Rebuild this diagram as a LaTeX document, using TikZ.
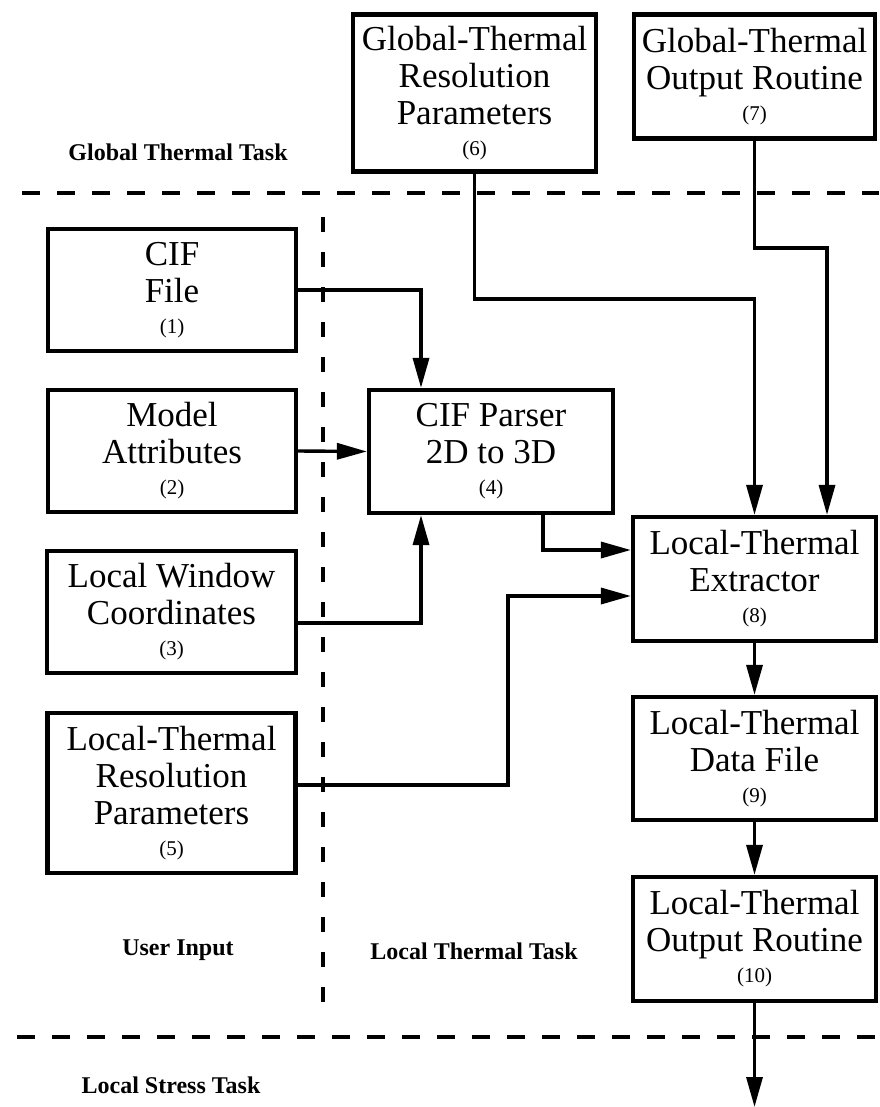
\documentclass[tikz,border=0pt]{standalone}
\usepackage{fontspec}
\setmainfont{Liberation Serif}
\usetikzlibrary{arrows.meta}
\newcommand\nbr[1]{\\[-6pt]{\fontsize{21}{21}\selectfont (#1)}}
\begin{document}
\begin{tikzpicture}[x=1pt,y=-1pt,
  box/.style={draw, line width=4.2pt, rectangle, inner sep=0pt, align=center,
    font=\fontsize{35}{37}\selectfont},
  conn/.style={line width=3.4pt, -{Triangle[length=30pt,width=16pt]}},
  hdash/.style={line width=4.5pt, dash pattern=on 18pt off 17pt},
  vdash/.style={line width=3.5pt, dash pattern=on 15pt off 20pt},
  tasklbl/.style={font=\bfseries\fontsize{24}{26}\selectfont, inner sep=0pt}]
\useasboundingbox (0,0) rectangle (879,1107);

% dashed region borders
\draw[hdash] (22,193) -- (879,193);
\draw[hdash] (17,1037) -- (879,1037);
\draw[vdash] (323,217) -- (323,1020);

% boxes
\node[box, minimum width=243pt, minimum height=157pt] (b6) at (474.5,93)
  {Global-Thermal\\Resolution\\Parameters\nbr{6}};
\node[box, minimum width=241pt, minimum height=124pt] (b7) at (754.5,76.5)
  {Global-Thermal\\Output Routine\nbr{7}};
\node[box, minimum width=248pt, minimum height=122pt] (b1) at (172,290)
  {CIF\\File\nbr{1}};
\node[box, minimum width=248pt, minimum height=122pt] (b2) at (172,451)
  {Model\\Attributes\nbr{2}};
\node[box, minimum width=249pt, minimum height=122pt] (b3) at (171.5,612)
  {Local Window\\Coordinates\nbr{3}};
\node[box, minimum width=248pt, minimum height=160pt] (b5) at (171.5,793)
  {Local-Thermal\\Resolution\\Parameters\nbr{5}};
\node[box, minimum width=244pt, minimum height=123pt] (b4) at (491,451.5)
  {CIF Parser\\2D to 3D\nbr{4}};
\node[box, minimum width=243pt, minimum height=124pt] (b8) at (754.5,579)
  {Local-Thermal\\Extractor\nbr{8}};
\node[box, minimum width=243pt, minimum height=123pt] (b9) at (754.5,758.5)
  {Local-Thermal\\Data File\nbr{9}};
\node[box, minimum width=243pt, minimum height=124pt] (b10) at (754.5,939)
  {Local-Thermal\\Output Routine\nbr{10}};

% labels
\node[tasklbl] (lg) at (178,152) {Global Thermal Task};
\node[tasklbl] (lu) at (178,950) {User Input};
\node[tasklbl] (ll) at (474,951) {Local Thermal Task};
\node[tasklbl] (ls) at (171,1085) {Local Stress Task};

% turning points
\coordinate (t6) at (754.5,299);
\coordinate (t7) at (827,248);
\coordinate (k5) at (508,785);
\coordinate (out) at (754.5,1107);

% connectors
\draw[conn] (b1.east) -| ([xshift=-70pt]b4.north);
\draw[conn] (b2.east) -- (b4.west);
\draw[conn] ([yshift=-11pt]b3.east) -| ([xshift=-70pt]b4.south);
\draw[conn] ([xshift=52pt]b4.south) |- ([yshift=29pt]b8.west);
\draw[conn] ([yshift=8pt]b5.east) -- (k5) |- ([yshift=-17pt]b8.west);
\draw[conn] (b6.south) |- (t6) -- (b8.north);
\draw[conn] (b7.south) |- (t7) -- ([xshift=72.5pt]b8.north);
\draw[conn] (b8.south) -- (b9.north);
\draw[conn] (b9.south) -- (b10.north);
\draw[conn] (b10.south) -- (out);
\end{tikzpicture}
\end{document}
